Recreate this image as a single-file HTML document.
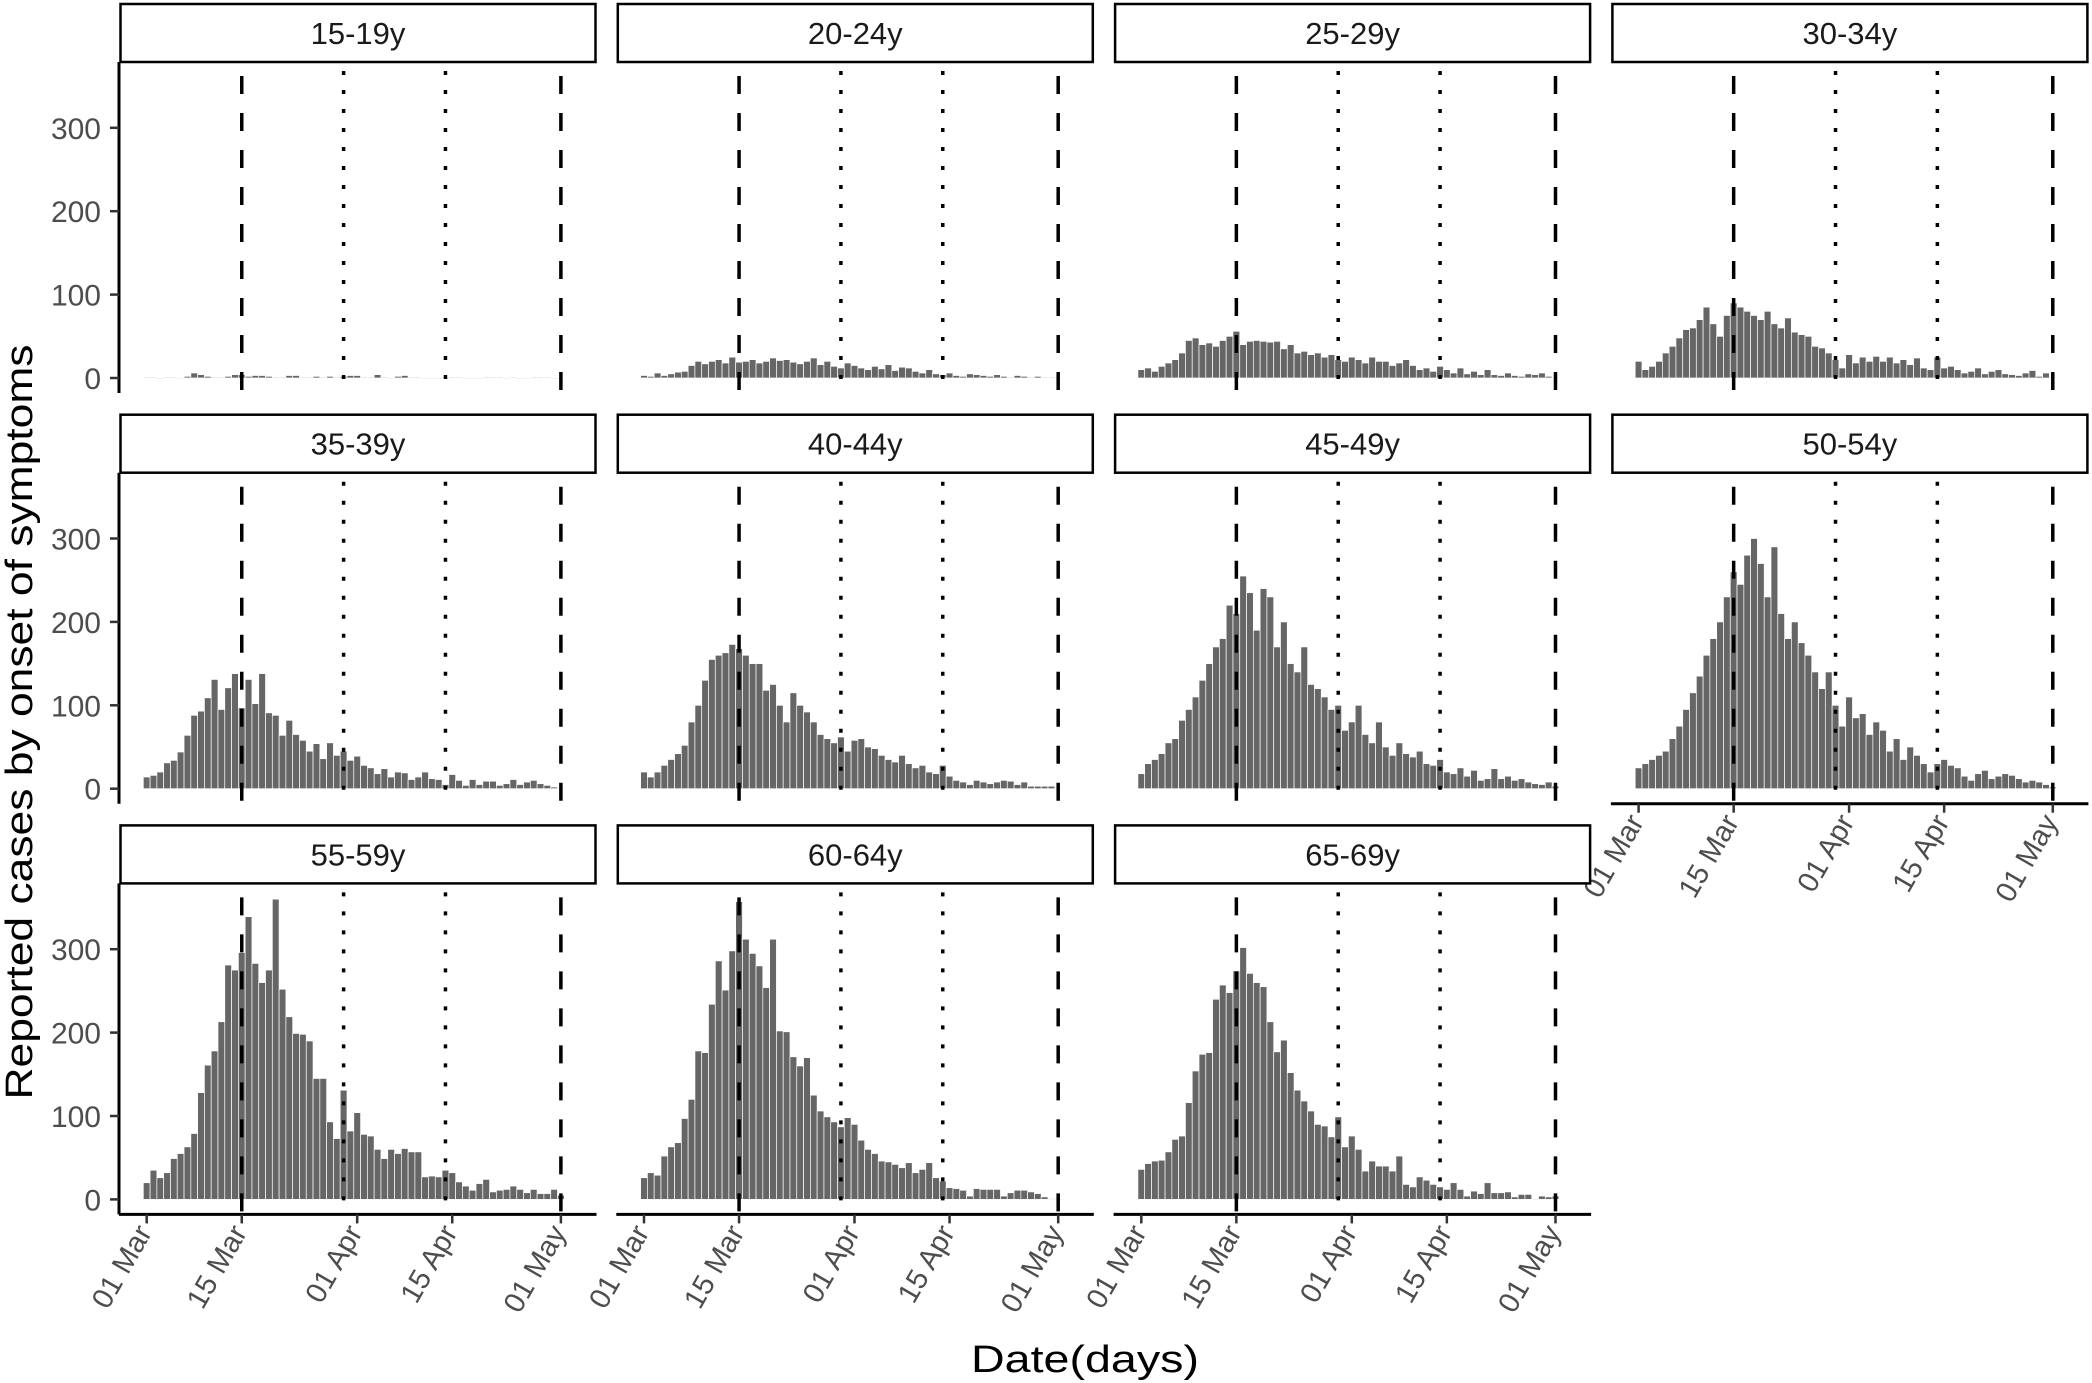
<!DOCTYPE html>
<html><head><meta charset="utf-8"><style>
html,body{margin:0;padding:0;background:#fff;}
svg{display:block;font-family:"Liberation Sans",Arial,sans-serif;}
</style></head>
<body>
<svg id="chart" width="2092" height="1383" viewBox="0 0 2092 1383" xmlns="http://www.w3.org/2000/svg">
<text x="1085" y="1372" font-size="38" text-anchor="middle" fill="#000" textLength="228" lengthAdjust="spacingAndGlyphs">Date(days)</text>
<text transform="translate(32,722) rotate(-90)" font-size="38" text-anchor="middle" fill="#000" textLength="755" lengthAdjust="spacingAndGlyphs">Reported cases by onset of symptoms</text>
</svg>
<script>
const panelLabels = ["15-19y","20-24y","25-29y","30-34y","35-39y","40-44y","45-49y","50-54y","55-59y","60-64y","65-69y"];
const yTicks = [0,100,200,300];
const xTickDays = [0,14,31,45,61];
const xTickLabels = ["01 Mar","15 Mar","01 Apr","15 Apr","01 May"];
const dashedDays = [14,61];
const dottedDays = [29,44];
const s1519 = [1,1,0,1,1,0,2,6,4,2,1,1,2,4,4,2,3,3,2,1,1,3,3,1,1,2,1,2,1,2,3,3,1,1,4,1,0,2,3,1,1,0,0,0,1,1,1,0,0,0,1,1,1,0,1,0,0,1,1,1,0,0];
const s2024 = [3,2,6,3,5,7,8,15,20,17,20,22,18,25,19,20,22,18,20,24,21,22,19,17,20,24,16,20,14,12,18,15,12,10,14,11,16,9,13,12,8,6,10,5,4,6,3,2,5,4,3,2,4,2,1,3,2,1,2,1,1,0];
const s2529 = [10,12,8,14,18,22,30,45,48,40,42,38,45,50,56,40,44,45,44,43,44,35,40,30,32,28,30,25,28,22,20,25,22,18,25,20,20,15,18,22,15,10,12,8,14,10,6,12,5,8,4,10,4,3,6,3,2,5,4,6,2,1];
const s3034 = [20,10,14,20,30,38,48,58,60,70,85,65,50,75,90,85,80,75,70,80,65,60,72,55,52,50,38,36,30,22,12,28,18,25,20,26,20,25,18,22,16,24,12,10,25,12,14,10,6,8,12,5,8,10,5,4,3,6,9,2,6,1];
const s3539 = [14,16,20,31,34,44,64,88,93,109,131,95,121,138,97,131,102,138,91,88,64,82,65,58,45,54,36,55,40,45,34,39,28,25,18,24,14,20,19,11,14,20,12,11,5,17,10,4,11,5,9,9,4,6,11,5,8,10,6,4,2,1];
const s4044 = [20,14,20,28,35,42,52,80,100,130,155,160,163,173,168,160,150,150,118,125,100,80,115,100,92,80,65,60,55,62,45,58,60,50,48,40,35,32,40,30,25,28,20,18,28,15,10,8,5,10,8,6,8,10,9,5,8,3,3,3,3,1];
const s4549 = [18,30,35,42,55,60,82,95,110,130,150,170,180,220,210,255,235,190,240,230,170,200,150,140,170,125,120,110,95,100,70,80,100,65,55,80,50,40,55,42,38,45,30,28,35,20,18,25,15,22,10,12,24,12,15,10,12,8,6,5,8,3];
const s5054 = [25,30,35,40,45,60,75,95,115,135,160,180,200,230,260,245,280,300,270,230,290,210,180,200,175,160,140,120,140,100,75,110,85,90,65,80,70,45,60,35,50,40,30,20,30,35,28,25,15,10,18,22,12,15,18,16,12,8,10,8,5,2];
const s5559 = [20,35,26,32,49,55,63,79,128,161,178,213,281,275,296,339,283,260,275,360,252,219,199,198,190,145,145,93,73,131,82,104,78,76,60,49,60,55,61,57,57,27,28,27,35,32,21,16,11,19,24,9,11,12,16,12,8,12,7,7,12,5];
const s6064 = [26,32,29,52,63,68,97,120,178,176,234,286,251,298,357,312,295,280,254,312,202,201,171,160,170,125,106,99,93,87,98,90,71,60,55,46,45,42,38,44,32,36,44,26,22,14,13,11,4,13,12,12,12,4,8,11,11,9,7,3,1,0];
const s6569 = [36,43,46,47,57,72,76,116,154,174,176,240,257,248,274,302,271,260,255,213,177,191,152,131,118,106,90,88,75,99,63,76,60,34,46,40,40,34,52,18,15,27,23,18,15,12,20,12,4,10,7,20,8,8,9,3,6,6,0,4,3,4];
const seriesList = [s1519,s2024,s2529,s3034,s3539,s4044,s4549,s5054,s5559,s6064,s6569];

const NS = "http://www.w3.org/2000/svg";
const svg = document.getElementById("chart");
const COLW = 497.3, ROWH = 410.7, DAYW = 6.79, PXU = 0.834;
function mk(tag, attrs, parent){
  const e = document.createElementNS(NS, tag);
  for (const k in attrs) e.setAttribute(k, attrs[k]);
  (parent||svg).appendChild(e);
  return e;
}
function xScale(c, day){ return 146.7 + COLW*c + DAYW*day; }
function yScale(r, v){ return 378 + ROWH*r - v*PXU; }

seriesList.forEach((vals, i) => {
  const c = i % 4, r = Math.floor(i/4);
  const g = mk("g", {});
  
  
  const sx = 120.5 + COLW*c, sy = 4 + ROWH*r;
  const plotTop = 62 + ROWH*r, plotBottom = 393 + ROWH*r;
  const st = mk("rect", {x:sx, y:sy, width:475, height:58, fill:"#fff", stroke:"#000", "stroke-width":2.5}, g);
  
  
  const tt = mk("text", {x:sx+237.5, y:sy+40, "font-size":31, "text-anchor":"middle", fill:"#1a1a1a"}, g);
  tt.textContent = panelLabels[i];
  
  
  vals.forEach((v, d) => {
    const y0 = yScale(r, 0), y1 = yScale(r, v);
    const b = mk("rect", {x:xScale(c,d)-DAYW/2, y:y1, width:DAYW, height:Math.max(y0-y1,0.8), fill:"#666666", stroke:"#ffffff", "stroke-width":0.7}, g);
    
    
  });
  dashedDays.forEach(d => {
    const l = mk("line", {x1:xScale(c,d), x2:xScale(c,d), y1:plotTop+14, y2:plotBottom, stroke:"#000", "stroke-width":3.5, "stroke-dasharray":"18 19"}, g);
    
    
  });
  dottedDays.forEach(d => {
    const l = mk("line", {x1:xScale(c,d), x2:xScale(c,d), y1:plotTop+9, y2:plotBottom, stroke:"#000", "stroke-width":3.5, "stroke-dasharray":"4 15"}, g);
    
    
  });
  if (c === 0) {
    const ax = mk("line", {x1:119, x2:119, y1:plotTop, y2:plotBottom, stroke:"#000", "stroke-width":3}, g);
    
    
    yTicks.forEach(t => {
      const y = yScale(r, t);
      mk("line", {x1:110, x2:119, y1:y, y2:y, stroke:"#333", "stroke-width":2.5}, g);
      const lb = mk("text", {x:101, y:y+11, "font-size":30, "text-anchor":"end", fill:"#4d4d4d"}, g);
      lb.textContent = t;
      
      
    });
  }
  if (r === 2 || (r === 1 && c === 3)) {
    const ax = mk("line", {x1:sx-1.5, x2:sx+476, y1:plotBottom, y2:plotBottom, stroke:"#000", "stroke-width":3}, g);
    
    
    xTickDays.forEach((d, k) => {
      const x = xScale(c, d);
      mk("line", {x1:x, x2:x, y1:plotBottom, y2:plotBottom+9, stroke:"#333", "stroke-width":2.5}, g);
      const lb = mk("text", {transform:"translate("+(x+6)+","+(plotBottom+18)+") rotate(-60)", "font-size":29, "text-anchor":"end", fill:"#4d4d4d"}, g);
      lb.textContent = xTickLabels[k];
      
      
    });
  }
});
</script>
</body></html>
